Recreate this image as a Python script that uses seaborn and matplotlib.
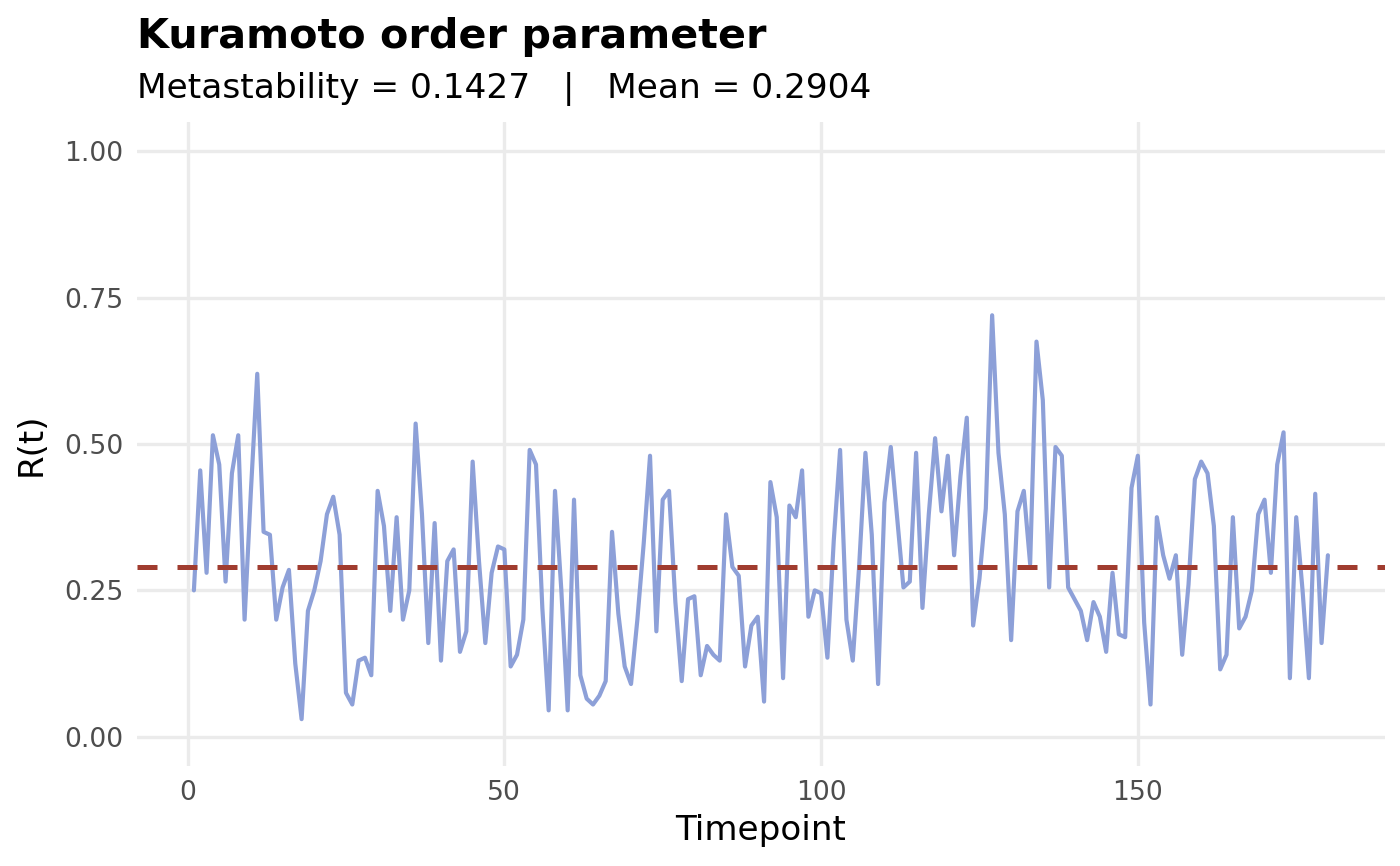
import matplotlib
matplotlib.use("Agg")
import matplotlib.pyplot as plt
import numpy as np
import pandas as pd
import seaborn as sns

# R(t) per timepoint
r_values = [
    0.25, 0.455, 0.28, 0.515, 0.465, 0.265, 0.45, 0.515, 0.20, 0.42,
    0.62, 0.35, 0.345, 0.20, 0.255, 0.285, 0.125, 0.03, 0.215, 0.25,
    0.30, 0.38, 0.41, 0.345, 0.075, 0.055, 0.13, 0.135, 0.105, 0.42,
    0.36, 0.215, 0.375, 0.20, 0.25, 0.535, 0.38, 0.16, 0.365, 0.13,
    0.30, 0.32, 0.145, 0.18, 0.47, 0.30, 0.16, 0.28, 0.325, 0.32,
    0.12, 0.14, 0.20, 0.49, 0.465, 0.22, 0.045, 0.42, 0.25, 0.045,
    0.405, 0.105, 0.065, 0.055, 0.07, 0.095, 0.35, 0.21, 0.12, 0.09,
    0.20, 0.33, 0.48, 0.18, 0.405, 0.42, 0.23, 0.095, 0.235, 0.24,
    0.105, 0.155, 0.14, 0.13, 0.38, 0.29, 0.275, 0.12, 0.19, 0.205,
    0.06, 0.435, 0.375, 0.10, 0.395, 0.375, 0.455, 0.205, 0.25, 0.245,
    0.135, 0.335, 0.49, 0.20, 0.13, 0.29, 0.485, 0.345, 0.09, 0.40,
    0.495, 0.375, 0.255, 0.265, 0.485, 0.22, 0.38, 0.51, 0.385, 0.48,
    0.31, 0.445, 0.545, 0.19, 0.27, 0.39, 0.72, 0.485, 0.38, 0.165,
    0.385, 0.42, 0.295, 0.675, 0.575, 0.255, 0.495, 0.48, 0.255, 0.235,
    0.215, 0.165, 0.23, 0.205, 0.145, 0.28, 0.175, 0.17, 0.425, 0.48,
    0.195, 0.055, 0.375, 0.31, 0.27, 0.31, 0.14, 0.26, 0.44, 0.47,
    0.45, 0.36, 0.115, 0.14, 0.375, 0.185, 0.205, 0.25, 0.38, 0.405,
    0.28, 0.465, 0.52, 0.10, 0.375, 0.25, 0.10, 0.415, 0.16, 0.31,
]
timepoints = list(range(1, len(r_values) + 1))

metastability_label = "0.1427"
mean_label = "0.2904"
mean_r = 0.2904

x_ticks = [0, 50, 100, 150]
y_ticks = [0.00, 0.25, 0.50, 0.75, 1.00]

df = pd.DataFrame({"Timepoint": timepoints, "R": r_values})

sns.set_theme(style="white")
plt.rcParams["font.family"] = ["DejaVu Sans"]

fig = plt.figure(figsize=(7, 4.33), dpi=200)
ax = fig.add_axes([0.098, 0.1155, 0.891, 0.7435])

ax.axhline(mean_r, color="#A03C2F", lw=1.8, dashes=(4, 4), zorder=3)
sns.lineplot(data=df, x="Timepoint", y="R", ax=ax, color="#8DA0D8",
             lw=1.5, zorder=2)

n = len(r_values)
span = n - 1
ax.set_xlim(1 - 0.05 * span, n + 0.05 * span)
ax.set_ylim(-0.05, 1.05)
ax.set_xticks(x_ticks)
ax.set_yticks(y_ticks)
ax.set_yticklabels(["%.2f" % v for v in y_ticks])
ax.grid(True, color="#EBEBEB", lw=1.2)
ax.set_axisbelow(True)
for s in ax.spines.values():
    s.set_visible(False)
ax.tick_params(axis="both", length=0, labelsize=9.6, labelcolor="#4D4D4D", pad=5)

ax.set_xlabel("Timepoint", fontsize=12.3, color="black", labelpad=3)
ax.set_ylabel("R(t)", fontsize=12.3, color="black", labelpad=6)

fig.text(0.098, 1 - 48 / 866, "Kuramoto order parameter", fontsize=14.9,
         fontweight="bold", color="black", ha="left", va="baseline")
fig.text(0.098, 1 - 98 / 866,
         "Metastability = %s   |   Mean = %s" % (metastability_label, mean_label),
         fontsize=12.4, color="black", ha="left", va="baseline")

fig.savefig("out.png", dpi=200, facecolor="white")
